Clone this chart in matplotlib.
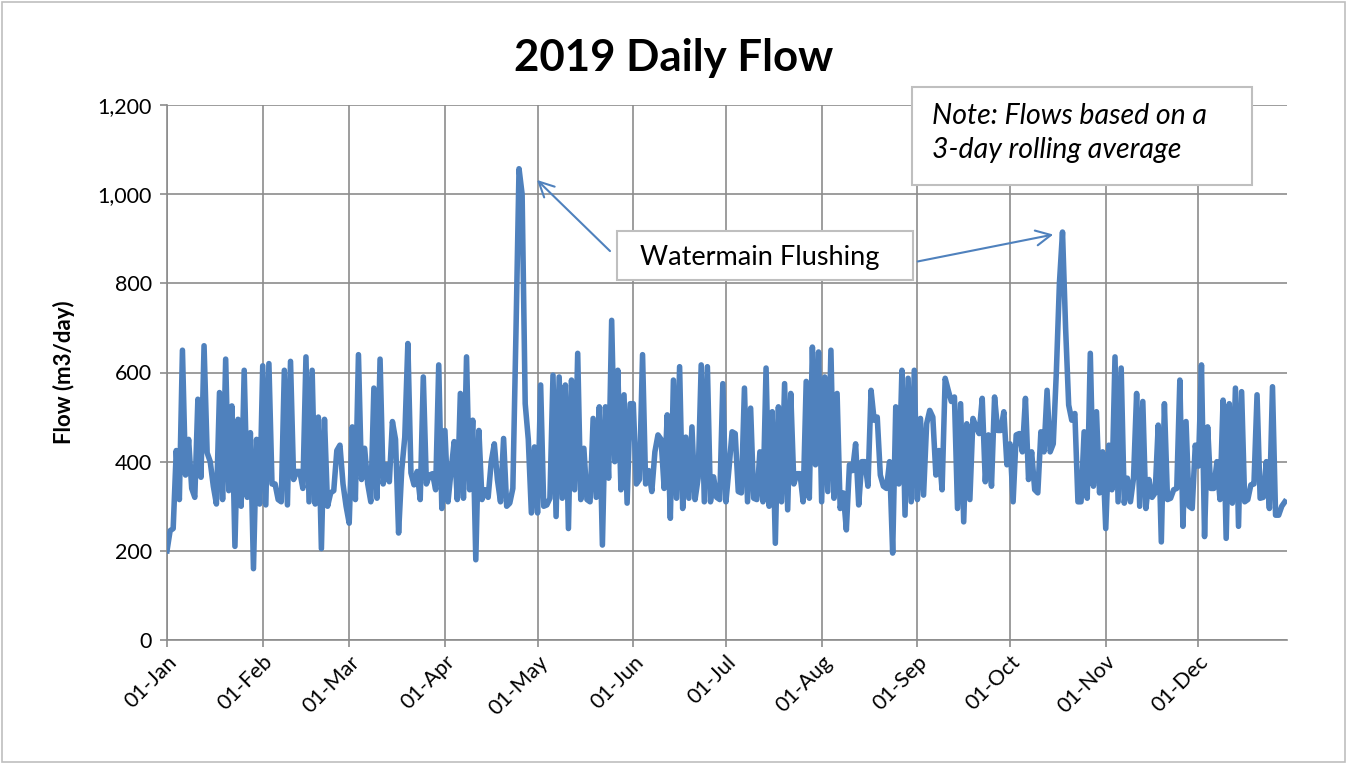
import matplotlib
matplotlib.use("Agg")
import matplotlib.pyplot as plt
import matplotlib.dates as mdates
import matplotlib.ticker as mticker
from matplotlib.patches import Rectangle, FancyArrowPatch
import pandas as pd

jan = [200, 245, 250, 425, 315, 650, 370, 450, 340, 320, 540, 365, 660, 420, 400, 345, 305, 555, 315, 630,
       335, 525, 210, 495, 300, 605, 320, 465, 160, 450, 305]
feb = [615, 303, 620, 350, 350, 315, 310, 605, 303, 625, 360, 378, 378, 340, 635, 310, 605, 305, 500, 205,
       495, 300, 330, 335, 425, 437, 350, 300]
mar = [262, 478, 315, 640, 360, 430, 350, 310, 565, 318, 630, 350, 393, 355, 490, 450, 240, 380, 455, 665,
       375, 348, 378, 315, 590, 350, 370, 373, 337, 617, 295]
apr = [470, 310, 380, 445, 315, 553, 318, 635, 337, 493, 180, 470, 315, 337, 320, 400, 440, 360, 310, 452,
       300, 307, 340, 687, 1057, 1000, 530, 450, 285, 433]
may = [285, 572, 300, 303, 318, 594, 277, 590, 318, 572, 250, 583, 337, 643, 315, 430, 315, 310, 497, 320,
       523, 213, 523, 363, 717, 400, 605, 337, 550, 307, 530]
jun = [530, 350, 360, 640, 350, 380, 333, 422, 460, 450, 340, 505, 273, 583, 318, 613, 295, 455, 318, 478,
       315, 363, 617, 310, 613, 310, 366, 320, 315, 575]
jul = [310, 385, 467, 463, 333, 330, 565, 310, 520, 318, 315, 422, 310, 610, 300, 512, 217, 523, 310, 575,
       292, 553, 350, 373, 373, 310, 580, 318, 657, 393, 646]
aug = [310, 590, 333, 650, 318, 553, 295, 330, 247, 393, 380, 440, 303, 400, 400, 345, 560, 493, 500, 370,
       345, 340, 400, 195, 523, 350, 605, 280, 587, 310, 605]
sep = [315, 497, 325, 485, 515, 500, 370, 425, 337, 587, 560, 535, 545, 295, 530, 265, 485, 315, 497, 478,
       463, 542, 355, 460, 345, 545, 470, 470, 512, 393]
octo = [440, 310, 460, 463, 422, 542, 360, 422, 337, 330, 467, 422, 560, 422, 440, 600, 800, 915, 700, 527,
        493, 508, 310, 310, 467, 318, 643, 345, 512, 330, 422]
nov = [250, 437, 337, 635, 310, 610, 307, 363, 310, 363, 553, 300, 535, 295, 360, 320, 330, 482, 220, 530,
       315, 318, 337, 340, 583, 255, 490, 300, 295, 437]
dec = [390, 617, 232, 478, 340, 340, 400, 315, 538, 228, 530, 307, 565, 255, 557, 310, 315, 348, 350, 550,
       318, 320, 400, 295, 568, 280, 280, 300, 310]

flow = jan + feb + mar + apr + may + jun + jul + aug + sep + octo + nov + dec
dates = pd.date_range("2019-01-01", periods=len(flow), freq="D")

title = "2019 Daily Flow"
ylabel = "Flow (m3/day)"
note_text = "Note: Flows based on a\n3-day rolling average"
callout_text = "Watermain Flushing"

W, H = 1348, 764
plt.rcParams['font.family'] = ['Lato', 'DejaVu Sans']
fig = plt.figure(figsize=(W / 100, H / 100), dpi=100)


def fx(x):
    return x / W


def fy(y):
    return 1 - y / H


ax = fig.add_axes([fx(167), fy(640), fx(1287) - fx(167), fy(105) - fy(640)])
ax.plot(dates, flow, color="#4F81BD", lw=4.0, solid_joinstyle="round", zorder=3)

start = pd.Timestamp("2019-01-01")
ax.set_xlim(start, start + pd.Timedelta(days=362.7))
ax.set_ylim(0, 1200)
ax.yaxis.set_major_locator(mticker.MultipleLocator(200))
ax.yaxis.set_major_formatter(mticker.FuncFormatter(lambda v, p: f"{int(v):,}"))
ax.xaxis.set_major_locator(mdates.MonthLocator())
ax.xaxis.set_major_formatter(mdates.DateFormatter("%d-%b"))
ax.grid(True, color="#8C8C8C", lw=1.2)
ax.set_axisbelow(True)
for s in ["top", "right"]:
    ax.spines[s].set_visible(False)
for s in ["left", "bottom"]:
    ax.spines[s].set_color("#8C8C8C")
    ax.spines[s].set_linewidth(1.2)
ax.tick_params(axis="both", colors="#8C8C8C", labelcolor="black", labelsize=15.5, length=5, width=1.2)
ax.tick_params(axis="y", pad=6)
for lbl in ax.get_xticklabels():
    lbl.set_rotation(45)
    lbl.set_ha("right")
    lbl.set_rotation_mode("anchor")
ax.set_ylabel(ylabel, fontsize=16, fontweight="bold", labelpad=16)

fig.text(0.5, fy(58), title, ha="center", va="center", fontsize=31.5, fontweight="bold")

# outer chart border
fig.patches.append(Rectangle((fx(2), fy(762)), fx(1345) - fx(2), fy(2) - fy(762),
                             transform=fig.transFigure, fill=False, ec="#BFBFBF", lw=1.2))

# note box
fig.patches.append(Rectangle((fx(912), fy(185)), fx(1252) - fx(912), fy(87) - fy(185),
                             transform=fig.transFigure, fc="white", ec="#BFBFBF", lw=1.5, zorder=5))
fig.text(fx(932), fy(133), note_text, ha="left", va="center", fontsize=20.5, style="italic",
         linespacing=1.35, zorder=6)

# callout box
fig.patches.append(Rectangle((fx(617), fy(280)), fx(913) - fx(617), fy(231) - fy(280),
                             transform=fig.transFigure, fc="white", ec="#BFBFBF", lw=1.5, zorder=5))
fig.text(fx(640), fy(258), callout_text, ha="left", va="center", fontsize=19.5, zorder=6)

arrow = dict(arrowstyle="->,head_length=0.9,head_width=0.45", color="#4F81BD", lw=1.5)
fig.add_artist(FancyArrowPatch((fx(612), fy(253)), (fx(535), fy(178)),
                               transform=fig.transFigure, mutation_scale=12, **arrow))
fig.add_artist(FancyArrowPatch((fx(915), fy(262)), (fx(1056), fy(234)),
                               transform=fig.transFigure, mutation_scale=12, **arrow))

fig.savefig("out.png", dpi=100)
